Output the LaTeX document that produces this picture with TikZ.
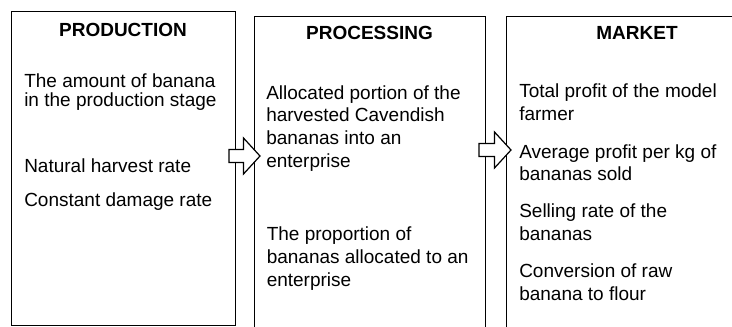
\documentclass[tikz,border=0pt]{standalone}
\usepackage{fontspec}
\setmainfont{Liberation Sans}
\usetikzlibrary{positioning,calc}

\tikzset{
  stage/.style={draw, line width=0.9pt, anchor=north west, inner sep=0pt},
  head/.style={font=\fontsize{14.25}{17}\selectfont\bfseries, anchor=base, inner sep=0pt},
  item/.style={font=\fontsize{14.25}{17}\selectfont, align=left, anchor=base west, inner sep=0pt},
  hollow/.style={draw, fill=white, line width=0.9pt, line join=miter}
}

\begin{document}
\begin{tikzpicture}[x=0.75pt,y=-0.75pt]
\clip (0,0) rectangle (732,326);
% the three stages
\node[stage, minimum width=168pt, minimum height=235.5pt] (prod) at (11,11) {};
\node[stage, minimum width=173.25pt, minimum height=246.75pt] (proc) at (254,16) {};
\node[stage, minimum width=196.5pt, minimum height=246.75pt] (mark) at (506,16) {};
\node[head] (prodT) at (123,36) {PRODUCTION};
\node[head] (procT) at (369.5,39.3) {PROCESSING};
\node[head] (markT) at (637,39.3) {MARKET};
% production (anchored on the last line)
\node[item, font=\fontsize{14.25}{14.55}\selectfont] (p1) at (24,106.7) {The amount of banana\\in the production stage};
\node[item] (p2) at (24,172.7) {Natural harvest rate};
\node[item] (p3) at (24,206.7) {Constant damage rate};
% processing
\node[item] (q1) at (266,167.3) {Allocated portion of the\\harvested Cavendish\\bananas into an\\enterprise};
\node[item] (q2) at (266.5,286) {The proportion of\\bananas allocated to an\\enterprise};
% market
\node[item] (m1) at (519,120) {Total profit of the model\\farmer};
\node[item] (m2) at (519,180.7) {Average profit per kg of\\bananas sold};
\node[item] (m3) at (519,240) {Selling rate of the\\bananas};
\node[item] (m4) at (519,300) {Conversion of raw\\banana to flour};
% hollow arrows
\coordinate (tail1) at (229,156);
\coordinate (tail2) at (479,150);
\draw[hollow] (tail1) ++(0,-6.5) -- ++(14.5,0) -- ++(0,-11.5) -- ++(16.5,18) -- ++(-16.5,18) -- ++(0,-11.5) -- ++(-14.5,0) -- cycle;
\draw[hollow] (tail2) ++(0,-6.5) -- ++(15.5,0) -- ++(0,-11.5) -- ++(16.5,18) -- ++(-16.5,18) -- ++(0,-11.5) -- ++(-15.5,0) -- cycle;
\end{tikzpicture}
\end{document}
